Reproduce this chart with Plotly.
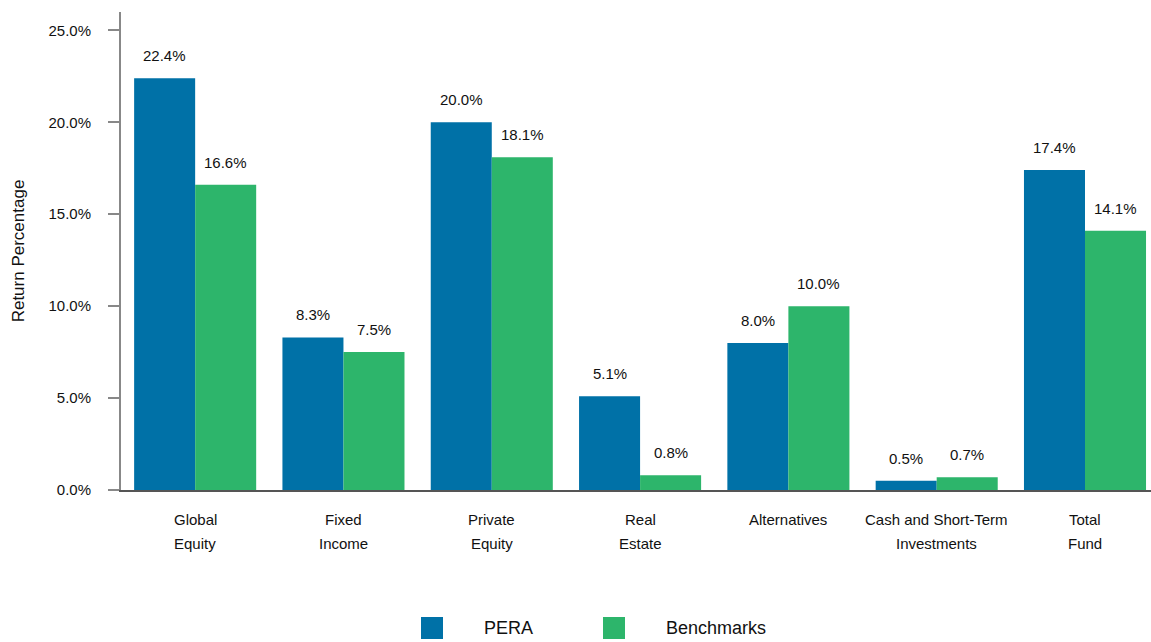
import plotly.graph_objects as go

# Returns by asset class (%)
categories = ["Global<br>Equity", "Fixed<br>Income", "Private<br>Equity", "Real<br>Estate",
              "Alternatives", "Cash and Short-Term<br>Investments", "Total<br>Fund"]
series_names = ["PERA", "Benchmarks"]
pera = [22.4, 8.3, 20.0, 5.1, 8.0, 0.5, 17.4]
benchmarks = [16.6, 7.5, 18.1, 0.8, 10.0, 0.7, 14.1]
y_ticks = [0, 5, 10, 15, 20, 25]

colors = ["#0071A7", "#2DB56B"]
font_family = "Liberation Sans, Arial, sans-serif"
bargap = 0.177

W, H = 1151, 642
margin = dict(l=121, r=0, t=12, b=152)
plot_w = W - margin["l"] - margin["r"]
plot_h = H - margin["t"] - margin["b"]
x_range = [-0.5, 6.445]

fig = go.Figure()
idx = list(range(len(categories)))
for name, vals, col in zip(series_names, [pera, benchmarks], colors):
    fig.add_trace(go.Bar(x=idx, y=vals, name=name, marker_color=col,
                         marker_line_width=0, showlegend=False))

# value labels above each bar
half = (1 - bargap) / 4
annotations = []
for k, vals in enumerate([pera, benchmarks]):
    off = -half if k == 0 else half
    for i, v in enumerate(vals):
        annotations.append(dict(x=i + off, y=v, xref="x", yref="y", text=f"{v:.1f}%",
                                showarrow=False, yanchor="bottom", yshift=12,
                                font=dict(size=15, color="#111", family=font_family)))

# category labels, one annotation per line for wider line spacing
for i, cat in enumerate(categories):
    for j, line in enumerate(cat.split("<br>")):
        annotations.append(dict(x=i, y=0, xref="x", yref="paper", text=line,
                                showarrow=False, yanchor="middle", yshift=-29 - 24 * j,
                                font=dict(size=15, color="#111", family=font_family)))

# legend drawn below the chart
def px_to_paper_x(px):
    return (px - margin["l"]) / plot_w

def px_to_paper_y(py):
    return (H - margin["b"] - py) / plot_h

legend_sq_x = [432, 614]
legend_txt_x = [482, 664]
legend_y = 628
shapes = []
for name, col, sx, tx in zip(series_names, colors, legend_sq_x, legend_txt_x):
    shapes.append(dict(type="rect", xref="paper", yref="paper",
                       xsizemode="pixel", ysizemode="pixel",
                       xanchor=px_to_paper_x(sx), yanchor=px_to_paper_y(legend_y),
                       x0=-11, x1=11, y0=-11, y1=11,
                       fillcolor=col, line_width=0))
    annotations.append(dict(x=px_to_paper_x(tx), y=px_to_paper_y(legend_y),
                            xref="paper", yref="paper", text=name, showarrow=False,
                            xanchor="left", yanchor="middle",
                            font=dict(size=18, color="#111", family=font_family)))

fig.update_layout(
    width=W, height=H, margin=margin,
    barmode="group", bargap=bargap, bargroupgap=0,
    plot_bgcolor="white", paper_bgcolor="white",
    font=dict(family=font_family, color="#111"),
    annotations=annotations, shapes=shapes,
    showlegend=False,
)
fig.update_xaxes(
    tickmode="array", tickvals=idx, ticktext=[""] * len(idx),
    range=x_range,
    showline=True, linecolor="#555", linewidth=2,
    ticks="", showgrid=False, zeroline=False,
)
fig.update_yaxes(
    range=[0, 26], tickvals=y_ticks, ticktext=[f"{t:.1f}%" for t in y_ticks],
    showline=True, linecolor="#888", linewidth=2,
    ticks="outside", ticklen=11, tickcolor="#888", tickwidth=2,
    showgrid=False, zeroline=False,
    tickfont=dict(size=15, color="#111"), ticklabelstandoff=14,
    title=dict(text="Return Percentage", font=dict(size=17, color="#111"), standoff=20),
)

fig.write_html("out.html")
